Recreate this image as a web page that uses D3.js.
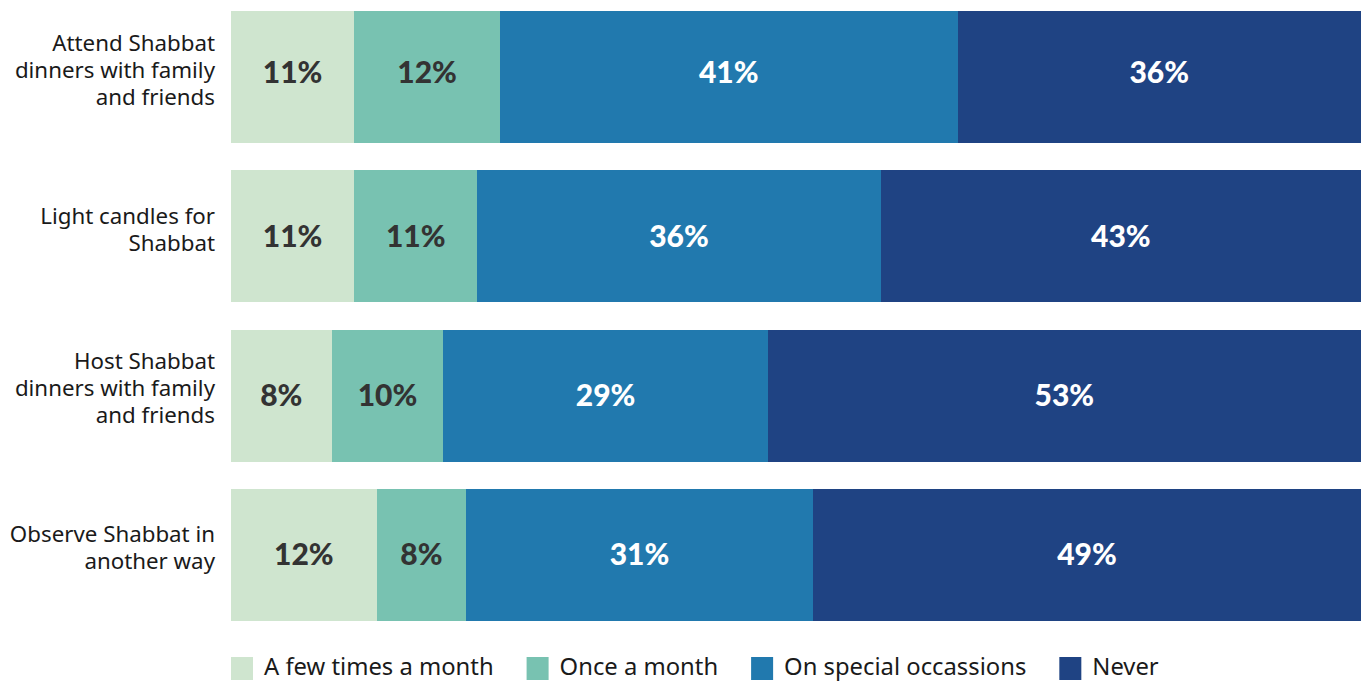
<!DOCTYPE html>
<html>
<head>
<meta charset="utf-8">
<script src="https://cdn.jsdelivr.net/npm/d3@7"></script>
<style>
body { margin: 0; background: #fff; }
svg { display: block; }
.cat { font-family: "Noto Sans", sans-serif; font-size: 22.3px; fill: #1a1a1a; }
.val { font-family: Lato, sans-serif; font-size: 30px; font-weight: 900; }
.leg { font-family: "Noto Sans", sans-serif; font-size: 23.8px; fill: #1a1a1a; }
</style>
</head>
<body>
<div id="chart"></div>
<script>
const width = 1364,
height = 681,
margin = { top: 11, bottom: 60, left: 231, right: 3 };

const categories = [
  ["Attend Shabbat", "dinners with family", "and friends"],
  ["Light candles for", "Shabbat"],
  ["Host Shabbat", "dinners with family", "and friends"],
  ["Observe Shabbat in", "another way"]
];

const seriesNames = ["A few times a month", "Once a month", "On special occassions", "Never"];
const colors = ["#cfe5cf", "#78c2b1", "#2179ae", "#1f4383"];
const textColors = ["#333333", "#333333", "#ffffff", "#ffffff"];

// shares
const fewTimes = [10.9, 10.9, 8.9, 12.9];
const onceMonth = [12.9, 10.9, 9.9, 7.9];
const special = [40.5, 35.7, 28.7, 30.7];
const never = [35.7, 42.5, 52.5, 48.5];

// printed labels
const fewTimesLabels = ["11%", "11%", "8%", "12%"];
const onceMonthLabels = ["12%", "11%", "10%", "8%"];
const specialLabels = ["41%", "36%", "29%", "31%"];
const neverLabels = ["36%", "43%", "53%", "49%"];

const values = [fewTimes, onceMonth, special, never];
const labels = [fewTimesLabels, onceMonthLabels, specialLabels, neverLabels];

const rows = categories.map((c, i) => {
  const row = { i: i, name: c };
  seriesNames.forEach((s, k) => row[s] = values[k][i]);
  return row;
});

const stack = d3.stack().keys(seriesNames)(rows);

const xScale = d3.scaleLinear()
  .domain([0, 100])
  .range([margin.left, width - margin.right]);

const yScale = d3.scaleBand()
  .domain(d3.range(categories.length))
  .range([margin.top, 621])
  .paddingInner(0.171)
  .paddingOuter(0);

const svg = d3.select("#chart")
  .append("svg")
  .attr("width", width)
  .attr("height", height);

const layers = svg.selectAll("g.layer")
  .data(stack)
  .join("g")
  .attr("class", "layer")
  .attr("fill", (d, k) => colors[k]);

layers.selectAll("rect")
  .data(d => d)
  .join("rect")
  .attr("x", d => xScale(d[0]))
  .attr("y", d => yScale(d.data.i))
  .attr("width", d => xScale(d[1]) - xScale(d[0]))
  .attr("height", yScale.bandwidth())
  .attr("shape-rendering", "crispEdges");

layers.selectAll("text")
  .data((d, k) => d.map(p => ({ p: p, k: k })))
  .join("text")
  .attr("class", "val")
  .attr("x", d => (xScale(d.p[0]) + xScale(d.p[1])) / 2)
  .attr("y", d => yScale(d.p.data.i) + yScale.bandwidth() / 2 - (d.p.data.i === 0 ? 5 : 0))
  .attr("dy", "0.35em")
  .attr("text-anchor", "middle")
  .attr("fill", d => textColors[d.k])
  .text(d => labels[d.k][d.p.data.i]);

// category labels
const lineH = 27;
svg.selectAll("text.cat")
  .data(rows)
  .join("text")
  .attr("class", "cat")
  .attr("text-anchor", "end")
  .each(function(d) {
    const n = d.name.length;
    const cy = yScale(d.i) + yScale.bandwidth() / 2 - 7;
    d3.select(this).selectAll("tspan")
      .data(d.name)
      .join("tspan")
      .attr("x", 215)
      .attr("y", (t, j) => cy + (j - (n - 1) / 2) * lineH)
      .attr("dy", "0.35em")
      .text(t => t);
  });

// legend
const legend = svg.append("g").attr("class", "legend");
let lx = margin.left;
seriesNames.forEach((s, k) => {
  legend.append("rect")
    .attr("x", lx)
    .attr("y", 657)
    .attr("width", 22)
    .attr("height", 23)
    .attr("fill", colors[k]);
  const t = legend.append("text")
    .attr("class", "leg")
    .attr("x", lx + 33)
    .attr("y", 667)
    .attr("dy", "0.35em")
    .text(s);
  lx = lx + 33 + t.node().getComputedTextLength() + 33;
});
</script>
</body>
</html>
